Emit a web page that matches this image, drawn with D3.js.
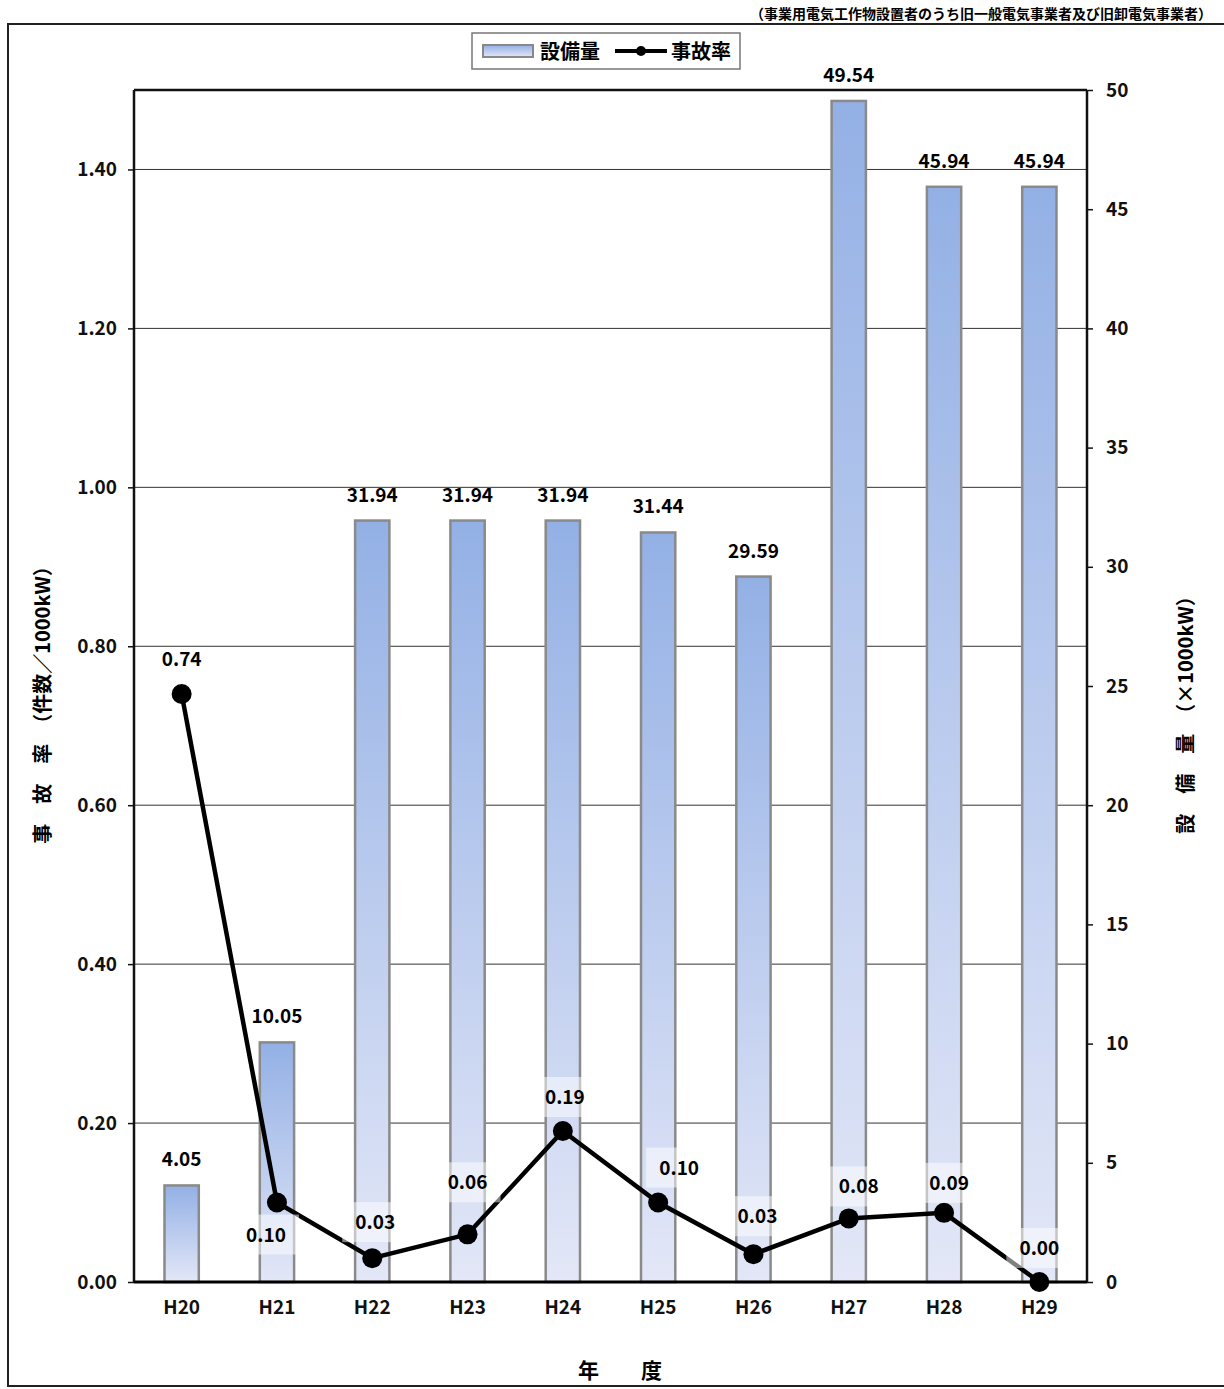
<!DOCTYPE html>
<html><head><meta charset="utf-8">
<script src="https://cdn.jsdelivr.net/npm/d3@7"></script>
<style>body{margin:0;background:#fff}text{font-family:"Noto Sans CJK JP","Liberation Sans",sans-serif}</style>
</head><body><svg id="c" width="1224" height="1389"></svg>
<script>
const years = ["H20","H21","H22","H23","H24","H25","H26","H27","H28","H29"];
const capacity = [4.05,10.05,31.94,31.94,31.94,31.44,29.59,49.54,45.94,45.94];
const rate = [0.74,0.10,0.03,0.06,0.19,0.10,0.035,0.08,0.087,0.00];
const rateLabels = ["0.74","0.10","0.03","0.06","0.19","0.10","0.03","0.08","0.09","0.00"];
const leftTicks = [0,0.2,0.4,0.6,0.8,1.0,1.2,1.4];
const rightTicks = [0,5,10,15,20,25,30,35,40,45,50];
// label offsets (dx, dy) relative to point
const labOff = [[0,-35],[-11,32],[3,-36],[0,-52],[2,-34],[21,-35],[4,-38],[10,-32],[5,-30],[0,-34]];

const svg = d3.select("#c");
const L=134,R=1087,T=90,B=1282;
const x = d3.scaleBand().domain(years).range([L,R]).paddingInner(0.64).paddingOuter(0.32);
const yL = d3.scaleLinear().domain([0,1.5]).range([B,T]);
const yR = d3.scaleLinear().domain([0,50]).range([B,T]);

const defs=svg.append("defs");
const g=defs.append("linearGradient").attr("id","bg").attr("x1",0).attr("y1",0).attr("x2",0).attr("y2",1);
g.append("stop").attr("offset","0%").attr("stop-color","#93b0e5");
g.append("stop").attr("offset","100%").attr("stop-color","#e3e7f7");

// outer frame + title
svg.append("rect").attr("x",8).attr("y",24).attr("width",1230).attr("height",1362).attr("fill","none").attr("stroke","#222").attr("stroke-width",2);
svg.append("text").attr("x",1212).attr("y",19).attr("text-anchor","end").attr("font-size",14).attr("font-weight","bold").text("（事業用電気工作物設置者のうち旧一般電気事業者及び旧卸電気事業者）");

// gridlines
svg.append("g").selectAll("line").data(leftTicks.slice(1)).join("line")
 .attr("x1",L).attr("x2",R).attr("y1",d=>yL(d)).attr("y2",d=>yL(d)).attr("stroke","#333").attr("stroke-width",1);

// bars
svg.append("g").selectAll("rect").data(capacity).join("rect")
 .attr("x",(d,i)=>x(years[i])).attr("width",x.bandwidth()).attr("y",d=>yR(d)).attr("height",d=>B-yR(d))
 .attr("fill","url(#bg)").attr("stroke","#8a8a8a").attr("stroke-width",2.5);
svg.append("g").selectAll("text").data(capacity).join("text")
 .attr("x",(d,i)=>x(years[i])+x.bandwidth()/2).attr("y",d=>yR(d)-19).attr("text-anchor","middle")
 .attr("font-size",19).attr("font-weight","bold").text(d=>d.toFixed(2));

// frame
svg.append("path").attr("d",`M${L},${T}H${R}M${L},${T}V${B}M${R},${T}V${B}`).attr("stroke","#111").attr("stroke-width",2.5).attr("fill","none");
svg.append("line").attr("x1",L).attr("x2",R).attr("y1",B).attr("y2",B).attr("stroke","#000").attr("stroke-width",3);

// axes
const la=svg.append("g").attr("transform",`translate(${L},0)`).call(d3.axisLeft(yL).tickValues(leftTicks).tickFormat(d3.format(".2f")).tickSize(6));
const ra=svg.append("g").attr("transform",`translate(${R},0)`).call(d3.axisRight(yR).tickValues(rightTicks).tickSize(6));
const xa=svg.append("g").attr("transform",`translate(0,${B})`).call(d3.axisBottom(x).tickSize(0).tickPadding(19));
[la,ra,xa].forEach(a=>{a.select(".domain").remove();a.selectAll("text").attr("font-size",19).attr("font-weight","bold").attr("fill","#111").attr("font-family","Liberation Sans, sans-serif");a.selectAll("line").attr("stroke","#111").attr("stroke-width",1.5);});
la.selectAll("text").attr("dx",-8);
ra.selectAll("text").attr("dx",10);

// line
const cx=(i)=>x(years[i])+x.bandwidth()/2;
svg.append("path").datum(rate).attr("d",d3.line().x((d,i)=>cx(i)).y(d=>yL(d))).attr("fill","none").attr("stroke","#000").attr("stroke-width",4.5);
svg.append("g").selectAll("circle").data(rate).join("circle").attr("cx",(d,i)=>cx(i)).attr("cy",d=>yL(d)).attr("r",10).attr("fill","#000");
const rl=svg.append("g").selectAll("g").data(rate).join("g").attr("transform",(d,i)=>`translate(${cx(i)+labOff[i][0]},${yL(d)+labOff[i][1]})`);
rl.filter((d,i)=>i>0).append("rect").attr("x",-33).attr("y",-20).attr("width",66).attr("height",40).attr("fill","#fff").attr("opacity",0.5);
rl.append("text").attr("text-anchor","middle").attr("dy",7).attr("font-size",19).attr("font-weight","bold").text((d,i)=>rateLabels[i]);

// axis titles
svg.append("text").attr("transform","translate(50,700) rotate(-90)").attr("text-anchor","middle").attr("font-size",20).attr("font-weight","bold").text("事　故　率　（件数／1000kW）");
svg.append("text").attr("transform","translate(1193,710) rotate(-90)").attr("text-anchor","middle").attr("font-size",20).attr("font-weight","bold").text("設　備　量　（×1000kW）");
svg.append("text").attr("x",620).attr("y",1378).attr("text-anchor","middle").attr("font-size",21).attr("font-weight","bold").text("年　　度");

// legend
const lg=svg.append("g");
lg.append("rect").attr("x",472).attr("y",33).attr("width",268).attr("height",36).attr("fill","#fff").attr("stroke","#777").attr("stroke-width",1.5);
lg.append("rect").attr("x",483).attr("y",45).attr("width",50).attr("height",12).attr("fill","url(#bg)").attr("stroke","#888").attr("stroke-width",2);
lg.append("text").attr("x",540).attr("y",59).attr("font-size",20).attr("font-weight","bold").text("設備量");
lg.append("line").attr("x1",615).attr("x2",667).attr("y1",51).attr("y2",51).attr("stroke","#000").attr("stroke-width",4);
lg.append("circle").attr("cx",641).attr("cy",51).attr("r",5);
lg.append("text").attr("x",671).attr("y",59).attr("font-size",20).attr("font-weight","bold").text("事故率");
</script></body></html>
